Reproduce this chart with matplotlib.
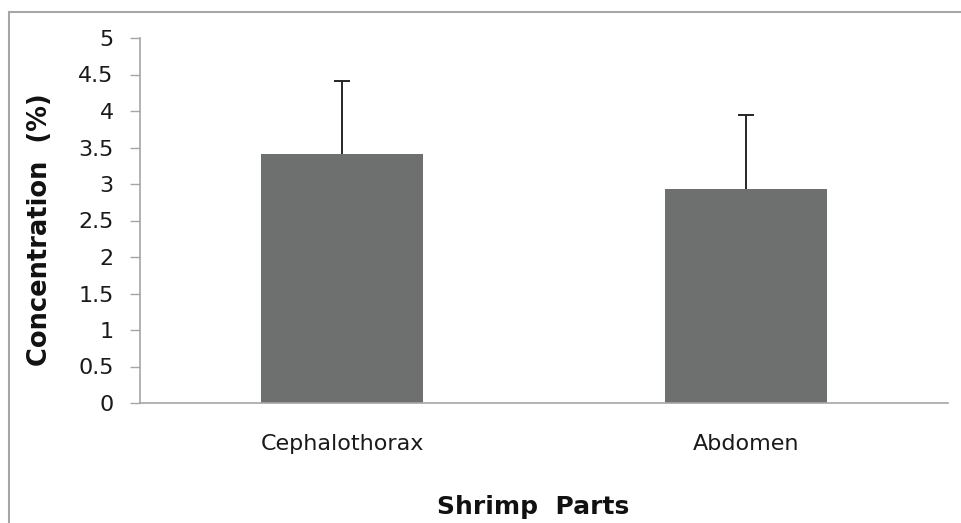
import matplotlib.pyplot as plt
import matplotlib.patches as mpatches
import numpy as np

# data
parts = ['Cephalothorax', 'Abdomen']
concentration = [3.41, 2.93]
error_up = [1.00, 1.02]
y_ticks = [0, 0.5, 1, 1.5, 2, 2.5, 3, 3.5, 4, 4.5, 5]
y_tick_labels = ['0', '0.5', '1', '1.5', '2', '2.5', '3', '3.5', '4', '4.5', '5']

W, H = 962, 523
fig = plt.figure(figsize=(W / 100, H / 100), dpi=100)
fig.patch.set_facecolor('white')

# outer chart frame (only top/left visible in the reference)
frame = mpatches.Rectangle((8.5 / W, -0.1), 1.2, 1.1 - 12 / H,
                           transform=fig.transFigure, fill=False,
                           edgecolor='#a6a6a6', linewidth=1.5)
fig.patches.append(frame)

ax = fig.add_axes([140 / W, 1 - 403 / H, (948 - 140) / W, (403 - 38) / H])

x = np.arange(len(parts))
ax.bar(x, concentration, width=0.4, color='#6d706f', zorder=2)
eb = ax.errorbar(x, concentration, yerr=[np.zeros(len(parts)), error_up],
                 fmt='none', ecolor='#262626', elinewidth=1.4, capsize=6,
                 capthick=1.4, zorder=3)
# plus-only error bars: hide the lower cap
eb[1][0].set_visible(False)

ax.set_xlim(-0.5, 1.5)
ax.set_ylim(0, 5)
ax.set_yticks(y_ticks)
ax.set_yticklabels(y_tick_labels)
ax.set_xticks(x)
ax.set_xticklabels(parts)

for lab in ax.get_yticklabels() + ax.get_xticklabels():
    lab.set_fontsize(16)
    lab.set_color('#1a1a1a')

ax.tick_params(axis='y', length=7, width=1, color='#a6a6a6', pad=12)
ax.tick_params(axis='x', length=0, pad=22)

for side in ['top', 'right']:
    ax.spines[side].set_visible(False)
for side in ['left', 'bottom']:
    ax.spines[side].set_color('#a6a6a6')
    ax.spines[side].set_linewidth(1.2)

fig.text(40 / W, 1 - 230 / H, 'Concentration  (%)', rotation=90,
         ha='center', va='center', fontsize=18.5, fontweight='bold',
         color='#111111')
fig.text(533 / W, 1 - 507 / H, 'Shrimp  Parts', ha='center', va='center',
         fontsize=18, fontweight='bold', color='#111111')

fig.savefig('out.png', dpi=100)
